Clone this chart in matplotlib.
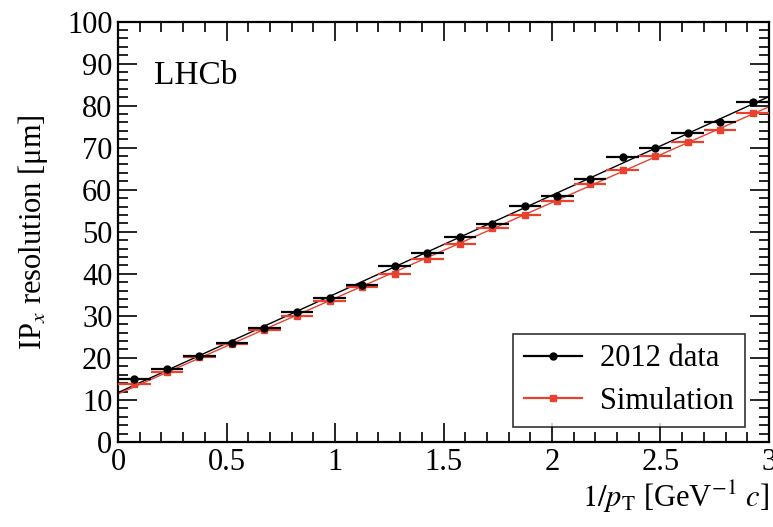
import matplotlib
matplotlib.use('Agg')
import matplotlib.pyplot as plt
import numpy as np
from matplotlib.ticker import MultipleLocator
from matplotlib.lines import Line2D

plt.rcParams['font.family'] = ['Liberation Serif', 'DejaVu Serif']
plt.rcParams['mathtext.fontset'] = 'stix'

# bin centres in 1/pT, bin half width 0.075
inv_pt = [0.075, 0.225, 0.375, 0.525, 0.675, 0.825, 0.975, 1.125, 1.275, 1.425,
          1.575, 1.725, 1.875, 2.025, 2.175, 2.325, 2.475, 2.625, 2.775, 2.925]
half_w = 0.075
data_2012 = [14.9, 17.4, 20.5, 23.6, 27.0, 31.0, 34.2, 37.3, 41.9, 45.0,
             48.8, 51.8, 56.1, 58.6, 62.5, 67.8, 69.8, 73.6, 76.2, 80.9]
data_err = [0.4] * 20
sim = [13.8, 16.6, 20.1, 23.3, 26.6, 30.0, 33.6, 36.8, 40.0, 43.5,
       47.1, 50.8, 54.0, 57.4, 61.3, 64.7, 68.0, 71.3, 74.2, 78.2]
sim_err = [0.4] * 20

red = '#e8412e'

fig = plt.figure(figsize=(7.73, 5.27), dpi=100)
ax = fig.add_axes([0.1527, 0.1613, 0.8421, 0.7979])

x = np.array(inv_pt)
xfit = np.linspace(0, 3, 50)

# linear fits
pd_ = np.polyfit(x, data_2012, 1)
ps_ = np.polyfit(x, sim, 1)
ax.plot(xfit, np.polyval(pd_, xfit), color='black', linewidth=1.0, zorder=2)
ax.plot(xfit, np.polyval(ps_, xfit), color=red, linewidth=1.0, zorder=2)

ax.errorbar(x, sim, xerr=half_w, yerr=sim_err, fmt='s', color=red, markersize=5,
            elinewidth=1.6, capsize=0, zorder=3)
ax.errorbar(x, data_2012, xerr=half_w, yerr=data_err, fmt='o', color='black', markersize=5,
            elinewidth=1.6, capsize=0, zorder=4)

ax.set_xlim(0, 3)
ax.set_ylim(0, 100)
ax.xaxis.set_minor_locator(MultipleLocator(0.1))
ax.yaxis.set_major_locator(MultipleLocator(10))
ax.yaxis.set_minor_locator(MultipleLocator(2))
ax.set_xticks([0, 0.5, 1, 1.5, 2, 2.5, 3])
ax.set_xticklabels(['0', '0.5', '1', '1.5', '2', '2.5', '3'])
ax.tick_params(which='both', direction='in', top=True, right=True, labelsize=22, width=1.2, pad=4)
ax.tick_params(which='major', length=14)
ax.tick_params(which='minor', length=7)
for s in ax.spines.values():
    s.set_linewidth(1.6)

ax.set_ylabel(r'IP$_x$ resolution [μm]', fontsize=22, labelpad=12)
ax.set_xlabel(r'$1/p_{\rm T}$ [GeV$^{-1}$ $c$]', fontsize=22, loc='right', labelpad=2)

ax.text(0.055, 0.87, 'LHCb', transform=ax.transAxes, fontsize=24, va='center')

handles = [Line2D([], [], color='black', marker='o', markersize=5, linewidth=1.6),
           Line2D([], [], color=red, marker='s', markersize=5, linewidth=1.6)]
leg = ax.legend(handles, ['2012 data', 'Simulation'], loc='lower right',
                bbox_to_anchor=(0.963, 0.036), borderaxespad=0, fontsize=22,
                frameon=True, fancybox=False, edgecolor='black', borderpad=0.35,
                handlelength=1.9, handletextpad=0.6, labelspacing=0.45)
leg.get_frame().set_linewidth(1.2)

fig.savefig('out.png', dpi=100)
